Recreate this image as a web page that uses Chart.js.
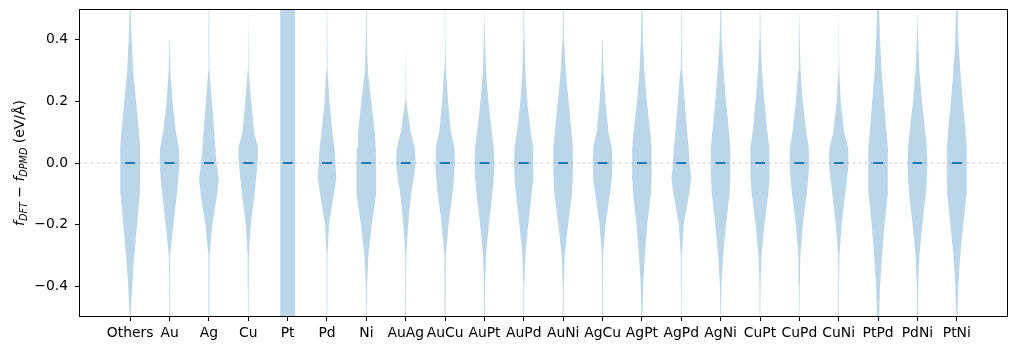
<!DOCTYPE html>
<html>
<head>
<meta charset="utf-8">
<script src="https://cdn.jsdelivr.net/npm/chart.js@4/dist/chart.umd.min.js"></script>
<style>
  html, body { margin: 0; padding: 0; background: #fff; }
  #wrap { width: 1018px; height: 351px; }
</style>
</head>
<body>
<div id="wrap"><canvas id="myChart" width="1018" height="351"></canvas></div>
<script>
// categories along x
const categories = ['Others', 'Au', 'Ag', 'Cu', 'Pt', 'Pd', 'Ni', 'AuAg', 'AuCu', 'AuPt', 'AuPd',
  'AuNi', 'AgCu', 'AgPt', 'AgPd', 'AgNi', 'CuPt', 'CuPd', 'CuNi', 'PtPd', 'PdNi', 'PtNi'];

// force error levels (eV/Å) where the violin width is sampled
const levels = [-0.5, -0.4, -0.3, -0.2, -0.1, -0.05, 0, 0.05, 0.1, 0.2, 0.3, 0.4, 0.5];

// relative violin width at each level (1 = widest point of that violin)
const density = [
  [0.05, 0.2, 0.42, 0.7, 0.97, 1, 1, 1, 0.9, 0.6, 0.3, 0.15, 0.05],      // Others
  [0.03, 0.04, 0.06, 0.4, 0.75, 0.9, 1, 0.95, 0.65, 0.3, 0.08, 0.04, 0.03], // Au
  [0.03, 0.04, 0.06, 0.35, 0.85, 1, 0.78, 0.65, 0.55, 0.3, 0.06, 0.04, 0.03], // Ag
  [0.02, 0.04, 0.06, 0.25, 0.65, 0.8, 0.95, 1, 0.6, 0.3, 0.06, 0.03, 0.02], // Cu
  [0.75, 0.75, 0.75, 0.75, 0.75, 0.75, 0.75, 0.75, 0.75, 0.75, 0.75, 0.75, 0.75], // Pt
  [0.02, 0.03, 0.05, 0.2, 0.7, 0.95, 0.85, 0.75, 0.55, 0.25, 0.08, 0.03, 0.02], // Pd
  [0.03, 0.06, 0.2, 0.55, 1, 1, 1, 0.95, 0.85, 0.5, 0.15, 0.05, 0.04],    // Ni
  [0.02, 0.03, 0.06, 0.25, 0.55, 0.8, 1, 0.9, 0.5, 0.06, 0.03, 0.02, 0.02], // AuAg
  [0.03, 0.04, 0.08, 0.35, 0.75, 0.9, 1, 0.95, 0.6, 0.3, 0.1, 0.03, 0.02], // AuCu
  [0.04, 0.06, 0.15, 0.45, 0.8, 0.95, 1, 0.95, 0.75, 0.4, 0.15, 0.06, 0.04], // AuPt
  [0.04, 0.05, 0.15, 0.45, 0.8, 0.95, 1, 0.95, 0.7, 0.35, 0.15, 0.06, 0.04], // AuPd
  [0.03, 0.05, 0.15, 0.5, 0.9, 0.98, 1, 0.98, 0.85, 0.55, 0.25, 0.07, 0.04], // AuNi
  [0.03, 0.03, 0.06, 0.3, 0.75, 0.95, 1, 0.95, 0.6, 0.3, 0.1, 0.04, 0.03], // AgCu
  [0.05, 0.12, 0.3, 0.55, 0.9, 0.98, 1, 0.98, 0.85, 0.5, 0.25, 0.1, 0.05], // AgPt
  [0.02, 0.03, 0.05, 0.25, 0.8, 1, 0.85, 0.75, 0.6, 0.35, 0.1, 0.04, 0.03], // AgPd
  [0.03, 0.07, 0.25, 0.55, 0.9, 0.98, 1, 0.98, 0.85, 0.55, 0.3, 0.1, 0.04], // AgNi
  [0.03, 0.05, 0.15, 0.45, 0.85, 0.95, 1, 0.95, 0.75, 0.45, 0.2, 0.07, 0.03], // CuPt
  [0.02, 0.04, 0.1, 0.35, 0.75, 0.9, 1, 0.95, 0.7, 0.35, 0.12, 0.05, 0.03], // CuPd
  [0.02, 0.03, 0.07, 0.3, 0.65, 0.85, 1, 0.95, 0.55, 0.2, 0.05, 0.03, 0.02], // CuNi
  [0.1, 0.2, 0.4, 0.65, 0.95, 1, 1, 1, 0.85, 0.6, 0.35, 0.2, 0.1],        // PtPd
  [0.03, 0.06, 0.2, 0.5, 0.85, 0.95, 1, 0.95, 0.8, 0.45, 0.2, 0.07, 0.04], // PdNi
  [0.05, 0.15, 0.35, 0.65, 0.98, 1, 1, 1, 0.9, 0.6, 0.35, 0.15, 0.08]     // PtNi
];

// median of each group
const medians = [0, 0, 0, 0, 0, 0, 0, 0, 0, 0, 0, 0, 0, 0, 0, 0, 0, 0, 0, 0, 0, 0];

// y tick values
const yTicks = [-0.4, -0.2, 0, 0.2, 0.4];

const halfWidth = 0.25;   // matplotlib widths=0.5
const xMin = -1.3, xMax = categories.length + 0.3;
const font = 'DejaVu Sans';

let datasets = [];

// dotted zero line
datasets.push({
  data: [{x: xMin, y: 0}, {x: xMax, y: 0}],
  borderColor: '#d3d3d3',
  borderWidth: 1.5,
  borderDash: [2, 4],
  pointRadius: 0,
  fill: false,
  order: 3
});

// violin bodies
density.forEach(function (d, i) {
  let pts = [];
  for (let k = 0; k < levels.length; k++) {
    pts.push({x: i - d[k] * halfWidth, y: levels[k]});
  }
  for (let k = levels.length - 1; k >= 0; k--) {
    pts.push({x: i + d[k] * halfWidth, y: levels[k]});
  }
  datasets.push({
    data: pts,
    backgroundColor: 'rgba(31,119,180,0.3)',
    borderWidth: 0,
    borderColor: 'rgba(0,0,0,0)',
    pointRadius: 0,
    tension: 0,
    fill: 'shape',
    order: 2
  });
});

// median markers
medians.forEach(function (m, i) {
  datasets.push({
    data: [{x: i - halfWidth / 2, y: m}, {x: i + halfWidth / 2, y: m}],
    borderColor: '#1f77b4',
    borderWidth: 2,
    pointRadius: 0,
    fill: false,
    order: 1
  });
});

// frame around the axes + rotated y label with subscripts
const frame = {
  id: 'frame',
  afterDraw(chart) {
    const c = chart.ctx, a = chart.chartArea;
    c.save();
    c.strokeStyle = '#000';
    c.lineWidth = 1;
    c.strokeRect(Math.round(a.left) + 0.5, Math.round(a.top) + 0.5,
      Math.round(a.right - a.left) - 1, Math.round(a.bottom - a.top) - 1);

    const parts = [
      {t: 'f', f: 'italic 13.9px ' + font, dy: 0},
      {t: 'DFT', f: 'italic 9.7px ' + font, dy: 3},
      {t: ' \u2212 ', f: '13.9px ' + font, dy: 0},
      {t: 'f', f: 'italic 13.9px ' + font, dy: 0},
      {t: 'DPMD', f: 'italic 9.7px ' + font, dy: 3},
      {t: ' (eV/\u00c5)', f: '13.9px ' + font, dy: 0}
    ];
    let total = 0;
    parts.forEach(function (p) { c.font = p.f; p.w = c.measureText(p.t).width; total += p.w; });
    c.translate(24, (a.top + a.bottom) / 2);
    c.rotate(-Math.PI / 2);
    c.fillStyle = '#000';
    c.textBaseline = 'alphabetic';
    c.textAlign = 'left';
    let x = -total / 2;
    parts.forEach(function (p) {
      c.font = p.f;
      c.fillText(p.t, x, p.dy);
      x += p.w;
    });
    c.restore();
  }
};

const ctx = document.getElementById('myChart').getContext('2d');
const myChart = new Chart(ctx, {
  type: 'line',
  data: {datasets: datasets},
  options: {
    responsive: false,
    animation: false,
    layout: {padding: {top: 9, right: 10, left: 0, bottom: 0}},
    plugins: {
      legend: {display: false},
      tooltip: {enabled: false}
    },
    scales: {
      x: {
        type: 'linear',
        min: xMin,
        max: xMax,
        afterBuildTicks: function (s) { s.ticks = categories.map(function (c, i) { return {value: i}; }); },
        afterFit: function (s) { s.height = 34; s.paddingLeft = 0; s.paddingRight = 0; },
        ticks: {
          autoSkip: false,
          maxRotation: 0,
          padding: 4,
          color: '#000',
          font: {family: font, size: 13.9},
          callback: function (v) { return categories[v]; }
        },
        grid: {drawOnChartArea: false, drawTicks: true, tickLength: 4, color: '#000'},
        border: {display: false}
      },
      y: {
        min: -0.5,
        max: 0.5,
        afterBuildTicks: function (s) { s.ticks = yTicks.map(function (v) { return {value: v}; }); },
        afterFit: function (s) { s.width = 79; s.paddingTop = 0; s.paddingBottom = 0; },
        ticks: {
          padding: 7,
          color: '#000',
          font: {family: font, size: 13.9},
          callback: function (v) { return v.toFixed(1).replace('-', '\u2212'); }
        },
        grid: {drawOnChartArea: false, drawTicks: true, tickLength: 4, color: '#000'},
        border: {display: false}
      }
    }
  },
  plugins: [frame]
});
</script>
</body>
</html>
